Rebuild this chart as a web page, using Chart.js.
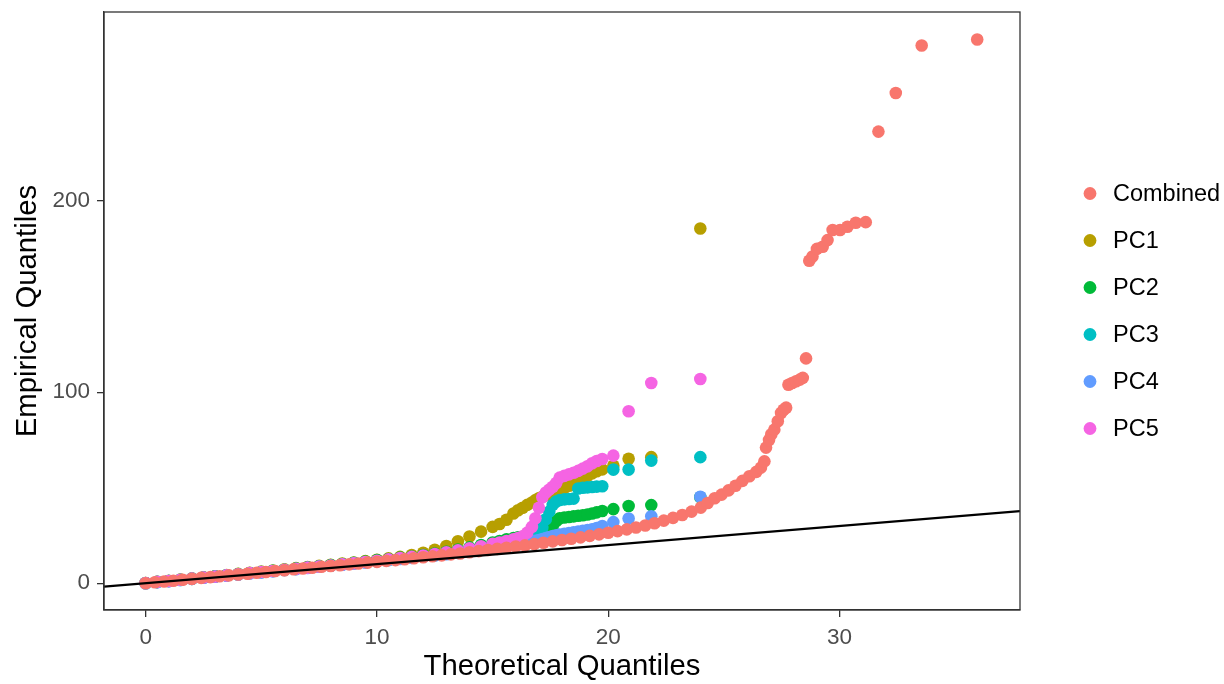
<!DOCTYPE html>
<html>
<head>
<meta charset="utf-8">
<script src="https://cdn.jsdelivr.net/npm/chart.js@4/dist/chart.umd.min.js"></script>
<style>
  html, body { margin: 0; padding: 0; background: #fff; }
</style>
</head>
<body>
<canvas id="myChart" width="1224" height="684"></canvas>
<script>
const seriesNames = ['Combined', 'PC1', 'PC2', 'PC3', 'PC4', 'PC5'];
const seriesColors = ['#F8766D', '#B79F00', '#00BA38', '#00BFC4', '#619CFF', '#F564E3'];
const xTicks = [0, 10, 20, 30];
const yTicks = [0, 100, 200];

// theoretical quantiles of the combined series and its empirical quantiles
const combX = [0,0.4,0.8,1.2,1.6,2.0,2.4,2.8,3.2,3.6,4.0,4.4,4.8,5.2,5.6,6.0,6.4,6.8,7.2,7.6,8.0,8.4,8.8,9.2,9.6,10.0,10.4,10.8,11.2,11.6,12.0,12.4,12.8,13.2,13.6,14.0,14.4,14.8,15.2,15.6,16.0,16.4,16.8,17.2,17.6,18.0,18.4,18.8,19.2,19.6,20.0,20.4,20.8,21.2,21.6,22.0,22.4,22.8,23.2,23.6,24.0,24.3,24.6,24.9,25.2,25.5,25.8,26.1,26.4,26.6,26.75,26.82,26.95,27.05,27.18,27.33,27.47,27.58,27.69,27.79,27.95,28.12,28.28,28.41,28.55,28.69,28.83,29.02,29.27,29.48,29.70,30.02,30.34,30.70,31.13,31.68,32.43,33.55,35.95];
const combY = [0,0.5,0.9,1.3,1.8,2.3,2.8,3.2,3.7,4.1,4.6,5.0,5.5,5.9,6.4,6.8,7.3,7.7,8.1,8.6,9.0,9.4,9.9,10.3,10.8,11.2,11.7,12.1,12.6,13.1,13.6,14.1,14.6,15.1,15.6,16.2,16.8,17.4,18.0,18.6,19.2,19.8,20.5,21.2,21.9,22.6,23.3,24.0,24.8,25.6,26.4,27.3,28.2,29.2,30.2,31.4,32.8,34.2,35.7,37.5,39.6,42.0,44.5,46.4,48.6,51.0,53.6,56.0,58.3,60.5,63.8,71.0,75.0,78.0,80.4,84.8,89.1,90.8,91.9,103.9,104.8,105.7,106.6,107.5,117.7,168.8,171.0,175.0,176.1,179.6,184.9,184.9,186.6,188.7,189.0,236.4,256.6,281.5,284.6];

// the five PCs share the same theoretical quantiles
const pcX = [0,0.5,1,1.5,2,2.5,3,3.5,4,4.5,5,5.5,6,6.5,7,7.5,8,8.5,9,9.5,10,10.5,11,11.5,12,12.5,13,13.5,14,14.5,15,15.3,15.6,15.9,16.1,16.3,16.5,16.7,16.85,17,17.15,17.3,17.45,17.6,17.75,17.9,18.1,18.3,18.5,18.7,18.9,19.1,19.3,19.5,19.74,20.22,20.88,21.86,23.98];
const pc1Y = [0.1,0.7,1.3,1.9,2.5,3.1,3.7,4.3,4.9,5.5,6.1,6.7,7.3,7.9,8.5,9.1,9.7,10.3,10.9,11.6,12.3,13.0,13.8,14.8,16.0,17.5,19.5,22.0,24.5,27.0,29.5,31.0,33.2,36.5,38.2,39.5,41.0,42.3,43.5,44.5,45.3,46.0,46.8,47.4,48.0,48.8,49.8,51.0,52.3,53.5,55.0,56.3,57.5,58.6,59.6,61.5,65.2,66.0,185.7];
const pc2Y = [0.1,0.7,1.2,1.8,2.4,3.0,3.6,4.2,4.8,5.4,5.9,6.5,7.1,7.7,8.3,8.9,9.5,10.1,10.7,11.4,12.1,12.7,13.4,14.0,14.8,15.6,16.5,17.6,18.8,20.0,21.3,22.1,23.0,23.6,24.0,24.3,24.6,24.9,25.1,25.3,25.8,26.6,27.8,29.8,32.5,34.0,34.4,34.7,35.0,35.3,35.6,36.0,36.5,37.1,37.8,38.8,40.4,40.9,45.0];
const pc3Y = [0,0.6,1.2,1.7,2.3,2.9,3.5,4.1,4.6,5.2,5.8,6.4,6.9,7.5,8.1,8.7,9.2,9.8,10.4,11.0,11.6,12.2,12.8,13.4,14.0,14.7,15.5,16.3,17.2,18.1,19.1,19.7,20.3,20.9,21.4,21.9,22.5,23.2,24.0,25.5,29.0,33.5,37.5,41.0,42.8,43.6,43.9,44.1,44.3,49.6,50.0,50.2,50.4,50.6,50.8,59.5,59.5,64.2,66.0];
const pc4Y = [0,0.6,1.1,1.7,2.3,2.9,3.4,4.0,4.6,5.2,5.7,6.3,6.9,7.4,8.0,8.6,9.2,9.7,10.3,10.9,11.5,12.1,12.7,13.3,13.9,14.5,15.2,15.9,16.6,17.4,18.3,18.8,19.4,20.0,20.4,20.8,21.3,21.8,22.2,22.6,23.1,23.6,24.2,24.7,25.1,25.5,25.9,26.3,26.7,27.0,27.4,27.8,28.3,28.9,30.0,32.0,33.9,35.1,45.3];
const pc5Y = [0.1,0.7,1.2,1.8,2.4,3.0,3.5,4.1,4.7,5.3,5.9,6.4,7.0,7.6,8.2,8.8,9.3,9.9,10.5,11.1,11.8,12.5,13.2,13.8,14.5,15.3,16.2,17.2,18.3,19.4,20.6,21.3,22.1,23.0,23.7,24.6,26.5,29.5,34.0,39.5,45.0,47.5,49.0,50.5,52.5,55.3,56.2,57.0,57.8,58.8,60.0,61.2,62.8,64.0,65.0,66.8,90.0,104.8,106.9];

// y = x reference line, drawn across the axis range
const refLine = [-1.8, 37.8];

const fontFamily = '"Liberation Sans", Arial, Helvetica, sans-serif';

function toPoints(xs, ys) {
    return xs.map((x, i) => ({ x: x, y: ys[i] }));
}

const seriesData = [
    toPoints(combX, combY),
    toPoints(pcX, pc1Y),
    toPoints(pcX, pc2Y),
    toPoints(pcX, pc3Y),
    toPoints(pcX, pc4Y),
    toPoints(pcX, pc5Y)
];

// Combined is painted on top, then PC5 ... PC1
const drawOrder = [1, 6, 5, 4, 3, 2];

const datasets = seriesNames.map((name, i) => ({
    label: name,
    data: seriesData[i],
    backgroundColor: seriesColors[i],
    borderColor: seriesColors[i],
    pointRadius: 6.3,
    pointBorderWidth: 0,
    pointHoverRadius: 6.3,
    order: drawOrder[i]
}));

datasets.push({
    type: 'line',
    label: 'ref',
    data: refLine.map(v => ({ x: v, y: v })),
    borderColor: '#000',
    borderWidth: 2.3,
    pointRadius: 0,
    fill: false,
    order: 0
});

// box round the panel, like the ggplot border
const panelBorder = {
    id: 'panelBorder',
    afterDraw(chart) {
        const { ctx, chartArea } = chart;
        ctx.save();
        ctx.strokeStyle = '#333333';
        ctx.lineWidth = 1.3;
        ctx.strokeRect(chartArea.left, chartArea.top, chartArea.right - chartArea.left, chartArea.bottom - chartArea.top);
        ctx.restore();
    }
};

// legend on the right, centred on the panel
const sideLegend = {
    id: 'sideLegend',
    afterDraw(chart) {
        const { ctx, chartArea } = chart;
        const rowGap = 47;
        const midY = (chartArea.top + chartArea.bottom) / 2;
        const startY = midY - rowGap * (seriesNames.length - 1) / 2;
        ctx.save();
        ctx.font = '23.5px ' + fontFamily;
        ctx.textBaseline = 'middle';
        ctx.textAlign = 'left';
        seriesNames.forEach((name, i) => {
            const y = startY + i * rowGap;
            ctx.fillStyle = seriesColors[i];
            ctx.beginPath();
            ctx.arc(1090, y, 6.4, 0, Math.PI * 2);
            ctx.fill();
            ctx.fillStyle = '#000';
            ctx.fillText(name, 1113, y + 1);
        });
        ctx.restore();
    }
};

const ctx = document.getElementById('myChart');

new Chart(ctx, {
    type: 'scatter',
    data: { datasets: datasets },
    options: {
        responsive: false,
        animation: false,
        devicePixelRatio: 1,
        layout: { padding: { left: 10, right: 204, top: 12, bottom: 0 } },
        plugins: {
            legend: { display: false },
            tooltip: { enabled: false }
        },
        scales: {
            x: {
                type: 'linear',
                min: -1.8,
                max: 37.8,
                afterBuildTicks: s => { s.ticks = xTicks.map(v => ({ value: v })); },
                afterFit: s => { s.height = 74; s.paddingLeft = 0; s.paddingRight = 0; },
                grid: { drawOnChartArea: false, drawTicks: true, tickLength: 7, tickColor: '#333333', lineWidth: 1.3 },
                border: { display: true, color: '#333333', width: 1.3 },
                ticks: { color: '#4D4D4D', font: { size: 22.5, family: fontFamily }, padding: 7, maxRotation: 0 },
                title: { display: true, text: 'Theoretical Quantiles', color: '#000', font: { size: 29.3, family: fontFamily }, padding: { top: 0, bottom: 0 } }
            },
            y: {
                type: 'linear',
                min: -14,
                max: 299,
                afterBuildTicks: s => { s.ticks = yTicks.map(v => ({ value: v })); },
                afterFit: s => { s.width = 94; s.paddingTop = 0; s.paddingBottom = 0; },
                grid: { drawOnChartArea: false, drawTicks: true, tickLength: 7, tickColor: '#333333', lineWidth: 1.3 },
                border: { display: true, color: '#333333', width: 1.3 },
                ticks: { color: '#4D4D4D', font: { size: 22.5, family: fontFamily }, padding: 7 },
                title: { display: true, text: 'Empirical Quantiles', color: '#000', font: { size: 29.3, family: fontFamily }, padding: { top: 0, bottom: 1 } }
            }
        }
    },
    plugins: [panelBorder, sideLegend]
});
</script>
</body>
</html>
